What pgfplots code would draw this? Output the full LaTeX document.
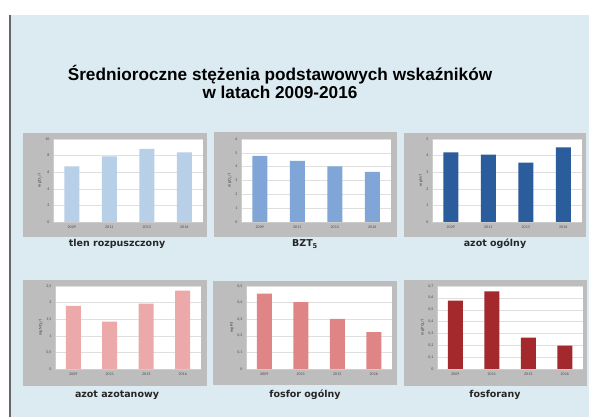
\documentclass[border=0pt]{standalone}
\usepackage{pgfplots}
\pgfplotsset{compat=1.18}
\usepackage{fontspec}
\setmainfont{Liberation Sans}
\newfontfamily\carl{Carlito}
\newfontfamily\dvs{DejaVu Sans}
\definecolor{bg}{HTML}{DCEBF2}
\definecolor{frame}{HTML}{BDBDBD}
\definecolor{c1}{HTML}{B8CFE8}
\definecolor{c2}{HTML}{7FA6D6}
\definecolor{c3}{HTML}{2B5C9C}
\definecolor{c4}{HTML}{EBA9AA}
\definecolor{c5}{HTML}{E08585}
\definecolor{c6}{HTML}{A3292D}
\pgfplotsset{
  panel/.style={
    scale only axis, ybar, bar width=15pt,
    xmin=-0.5, xmax=3.5, ymin=0,
    xtick={0,1,2,3}, xticklabels={2009,2011,2013,2016},
    ymajorgrids, grid style={gray!25, line width=0.4pt},
    axis background/.style={fill=white},
    axis x line*=bottom, axis y line*=left,
    axis line style={gray!40},
    major tick length=0pt,
    tick label style={font=\carl\fontsize{4}{5}\selectfont, text=black!70},
    ylabel style={font=\carl\fontsize{4}{5}\selectfont, text=black!80, yshift=-3pt},
    /pgf/number format/use comma,
    /pgf/number format/assume math mode=true,
  },
  top/.style={panel, width=150pt, height=83pt},
  bot/.style={panel, width=146pt, height=83pt},
}
\begin{document}
\begin{tikzpicture}
\useasboundingbox (0pt,0pt) rectangle (589pt,417pt);
\fill[white] (0pt,0pt) rectangle (589pt,417pt);
\fill[bg] (10pt,0pt) rectangle (589pt,402pt);
\draw[black!60, line width=1.2pt] (10pt,0pt) -- (10pt,402pt);

\node[font=\fontsize{17.2}{18.5}\selectfont\bfseries, align=center] at (280pt,335pt)
  {Średnioroczne stężenia podstawowych wskaźników\\w latach 2009-2016};

% chart frames
\fill[frame] (23pt,180pt) rectangle (207pt,284pt);
\fill[frame] (214pt,180pt) rectangle (397pt,285pt);
\fill[frame] (404pt,180pt) rectangle (586pt,284pt);
\fill[frame] (23pt,31pt) rectangle (207pt,137pt);
\fill[frame] (213pt,32pt) rectangle (397pt,136pt);
\fill[frame] (404pt,31pt) rectangle (587pt,137pt);

% panel titles
\begin{scope}[font=\dvs\bfseries\fontsize{9.5}{11}\selectfont, text=black!85]
\node at (117pt,173pt) {tlen rozpuszczony};
\node at (305pt,173pt) {BZT\textsubscript{5}};
\node at (495pt,173pt) {azot ogólny};
\node at (117pt,22pt) {azot azotanowy};
\node at (305pt,22pt) {fosfor ogólny};
\node at (495pt,22pt) {fosforany};
\end{scope}

\begin{axis}[top, at={(53pt,195pt)}, anchor=south west, ymax=10, ytick={0,2,...,10}, ylabel={mg O\textsubscript{2}/l}]
\addplot[fill=c1, draw=none] coordinates {(0,6.7) (1,7.9) (2,8.8) (3,8.4)};
\end{axis}

\begin{axis}[top, at={(241pt,195pt)}, anchor=south west, ymax=6, ytick={0,1,...,6}, ylabel={mg O\textsubscript{2}/l}]
\addplot[fill=c2, draw=none] coordinates {(0,4.78) (1,4.41) (2,4.02) (3,3.62)};
\end{axis}

\begin{axis}[top, at={(432pt,195pt)}, anchor=south west, ymax=5, ytick={0,1,...,5}, ylabel={mg N/l}]
\addplot[fill=c3, draw=none] coordinates {(0,4.2) (1,4.06) (2,3.57) (3,4.49)};
\end{axis}

\begin{axis}[bot, at={(55pt,48pt)}, anchor=south west, ymax=2.5, ytick={0,0.5,...,2.5}, ylabel={mg NO\textsubscript{3}/l}]
\addplot[fill=c4, draw=none] coordinates {(0,1.9) (1,1.43) (2,1.97) (3,2.36)};
\end{axis}

\begin{axis}[bot, at={(246pt,48pt)}, anchor=south west, ymax=0.5, ytick={0,0.1,...,0.5}, ylabel={mg P/l}]
\addplot[fill=c5, draw=none] coordinates {(0,0.454) (1,0.403) (2,0.302) (3,0.222)};
\end{axis}

\begin{axis}[bot, at={(437pt,48pt)}, anchor=south west, ymax=0.7, ytick={0,0.1,...,0.7}, ylabel={mg PO\textsubscript{4}/l}]
\addplot[fill=c6, draw=none] coordinates {(0,0.576) (1,0.655) (2,0.264) (3,0.197)};
\end{axis}
\end{tikzpicture}
\end{document}
